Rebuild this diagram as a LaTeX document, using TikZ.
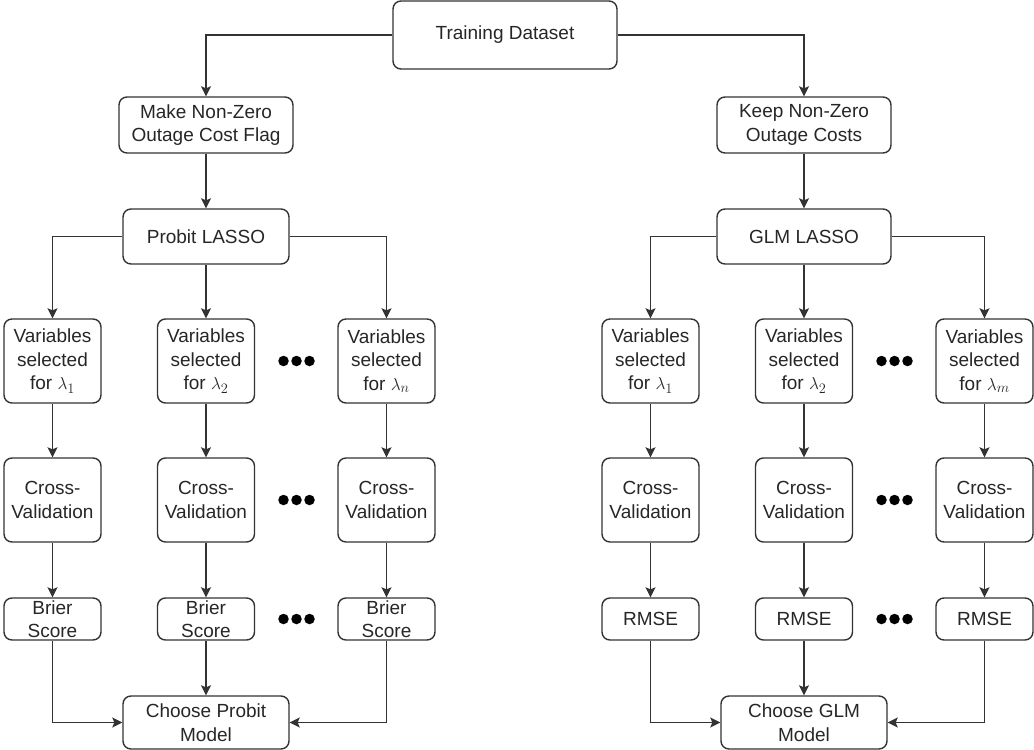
\documentclass[tikz,border=0pt]{standalone}
\usepackage{fontspec}
\setmainfont{Liberation Sans}
\usetikzlibrary{arrows.meta}
\definecolor{txt}{HTML}{262626}
\definecolor{edge}{HTML}{333333}
\tikzset{
  box/.style={draw=edge, line width=1.4pt, rounded corners=8pt, align=center,
    inner sep=0pt, text=txt, font=\fontsize{19}{23.5}\selectfont},
  conn/.style={draw=edge, line width=1.4pt, -{Stealth[length=10pt,width=10pt,inset=2pt]}},
  dot/.style={circle, fill=black, inner sep=0pt, minimum size=10.5pt}
}
\begin{document}
\begin{tikzpicture}[x=1pt,y=-1pt]
\useasboundingbox (0,0) rectangle (1034,750);
% top
\node[box, minimum width=224, minimum height=68] (train) at (505,35) {Training Dataset};
\node[box, minimum width=174, minimum height=56] (make) at (206,125) {Make Non-Zero\\Outage Cost Flag};
\node[box, minimum width=174, minimum height=56] (keep) at (804,125) {Keep Non-Zero\\Outage Costs};
\node[box, minimum width=166, minimum height=55] (probit) at (206,236.5) {Probit LASSO};
\node[box, minimum width=174, minimum height=55] (glm) at (804,236.5) {GLM LASSO};
% left columns
\foreach \i/\x/\l in {1/52.5/1, 2/206/2, 3/386.5/n}{
  \node[box, minimum width=97, minimum height=84] (pv\i) at (\x,361) {Variables\\selected\\for $\lambda_{\l}$};
  \node[box, minimum width=97, minimum height=84] (pc\i) at (\x,500) {Cross-\\Validation};
  \node[box, minimum width=97, minimum height=42] (pb\i) at (\x,619) {Brier\\Score};
}
\foreach \i/\x/\l in {1/650.5/1, 2/804/2, 3/984.5/m}{
  \node[box, minimum width=97, minimum height=84] (gv\i) at (\x,361) {Variables\\selected\\for $\lambda_{\l}$};
  \node[box, minimum width=97, minimum height=84] (gc\i) at (\x,500) {Cross-\\Validation};
  \node[box, minimum width=97, minimum height=42] (gb\i) at (\x,619) {RMSE};
}
\node[box, minimum width=166, minimum height=53] (chp) at (206,722.5) {Choose Probit\\Model};
\node[box, minimum width=166, minimum height=53] (chg) at (804,722.5) {Choose GLM\\Model};
% dots
\foreach \y [count=\k] in {361,500,619}{
  \node[dot] (pd\k a) at (283.5,\y) {};
  \node[dot] (pd\k b) at (296.5,\y) {};
  \node[dot] (pd\k c) at (309.5,\y) {};
  \node[dot] (gd\k a) at (881.5,\y) {};
  \node[dot] (gd\k b) at (894.5,\y) {};
  \node[dot] (gd\k c) at (907.5,\y) {};
}
% connectors
\draw[conn] (train.west) -| (make.north);
\draw[conn] (train.east) -| (keep.north);
\draw[conn] (make) -- (probit);
\draw[conn] (keep) -- (glm);
\draw[conn] (probit.west) -| (pv1.north);
\draw[conn] (probit) -- (pv2);
\draw[conn] (probit.east) -| (pv3.north);
\draw[conn] (glm.west) -| (gv1.north);
\draw[conn] (glm) -- (gv2);
\draw[conn] (glm.east) -| (gv3.north);
\foreach \i in {1,2,3}{
  \draw[conn] (pv\i) -- (pc\i);
  \draw[conn] (pc\i) -- (pb\i);
  \draw[conn] (gv\i) -- (gc\i);
  \draw[conn] (gc\i) -- (gb\i);
}
\draw[conn] (pb1.south) |- (chp.west);
\draw[conn] (pb2) -- (chp);
\draw[conn] (pb3.south) |- (chp.east);
\draw[conn] (gb1.south) |- (chg.west);
\draw[conn] (gb2) -- (chg);
\draw[conn] (gb3.south) |- (chg.east);
\end{tikzpicture}
\end{document}
